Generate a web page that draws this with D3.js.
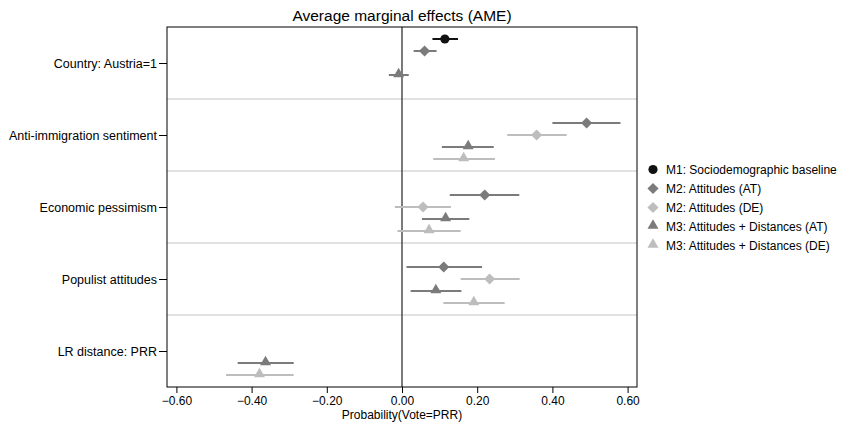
<!DOCTYPE html>
<html>
<head>
<meta charset="utf-8">
<script src="https://cdn.jsdelivr.net/npm/d3@7"></script>
<style>
  html, body { margin: 0; padding: 0; background: #fff; }
  svg { display: block; font-family: "Liberation Sans", Arial, Helvetica, sans-serif; }
</style>
</head>
<body>
<svg id="chart" width="850" height="423"></svg>
<script>
// ---------- data ----------
const categories = ["Country: Austria=1", "Anti-immigration sentiment", "Economic pessimism", "Populist attitudes", "LR distance: PRR"];
const seriesNames = ["M1: Sociodemographic baseline", "M2: Attitudes (AT)", "M2: Attitudes (DE)", "M3: Attitudes + Distances (AT)", "M3: Attitudes + Distances (DE)"];
const xTicks = [-0.6, -0.4, -0.2, 0, 0.2, 0.4, 0.6];

// point estimates per series (null = not in model)
const m1Est   = [0.114, null, null, null, null];
const m1Lo    = [0.081, null, null, null, null];
const m1Hi    = [0.149, null, null, null, null];

const m2atEst = [0.060, 0.491, 0.220, 0.111, null];
const m2atLo  = [0.031, 0.400, 0.127, 0.012, null];
const m2atHi  = [0.092, 0.581, 0.312, 0.213, null];

const m2deEst = [null, 0.358, 0.056, 0.233, null];
const m2deLo  = [null, 0.280, -0.019, 0.156, null];
const m2deHi  = [null, 0.438, 0.130, 0.313, null];

const m3atEst = [-0.009, 0.176, 0.116, 0.090, -0.363];
const m3atLo  = [-0.035, 0.106, 0.053, 0.023, -0.437];
const m3atHi  = [0.018, 0.244, 0.179, 0.158, -0.288];

const m3deEst = [null, 0.164, 0.072, 0.191, -0.379];
const m3deLo  = [null, 0.083, -0.012, 0.110, -0.468];
const m3deHi  = [null, 0.247, 0.156, 0.273, -0.288];

// ---------- styling ----------
const colors = ["#111111", "#7b7b7b", "#bdbdbd", "#7b7b7b", "#bdbdbd"];
const shapes = ["circle", "diamond", "diamond", "triangle", "triangle"];

const series = [
  {est: m1Est, lo: m1Lo, hi: m1Hi},
  {est: m2atEst, lo: m2atLo, hi: m2atHi},
  {est: m2deEst, lo: m2deLo, hi: m2deHi},
  {est: m3atEst, lo: m3atLo, hi: m3atHi},
  {est: m3deEst, lo: m3deLo, hi: m3deHi}
].map((s, i) => ({...s, name: seriesNames[i], color: colors[i], shape: shapes[i], idx: i}));

const svg = d3.select("#chart");
const L = 167, R = 637, T = 27, B = 387;

const x = d3.scaleLinear().domain([-0.625, 0.625]).range([L, R]);
const yGroup = d3.scaleBand().domain(categories).range([T, B]).padding(0);
const slot = d3.scaleBand().domain(d3.range(5)).range([0, yGroup.bandwidth()]).paddingOuter(0.5).paddingInner(0);
const yPos = (cat, k) => yGroup(cat) + slot(k) + slot.bandwidth() / 2;

// separators
svg.append("g").selectAll("line")
  .data(categories.slice(1))
  .join("line")
  .attr("x1", L).attr("x2", R)
  .attr("y1", d => yGroup(d)).attr("y2", d => yGroup(d))
  .attr("stroke", "#d9d9d9").attr("stroke-width", 1.6);

// zero line
svg.append("line")
  .attr("x1", x(0)).attr("x2", x(0)).attr("y1", T).attr("y2", B)
  .attr("stroke", "#222").attr("stroke-width", 1.2);

function symbolFor(shape, size) {
  const type = shape === "circle" ? d3.symbolCircle : shape === "diamond" ? d3.symbolSquare : d3.symbolTriangle;
  return d3.symbol().type(type).size(size)();
}
const sizes = {circle: 66, diamond: 62, triangle: 52};
const rot = {circle: 0, diamond: 45, triangle: 0};

// marks
series.forEach(s => {
  const pts = categories.map((c, i) => ({c, est: s.est[i], lo: s.lo[i], hi: s.hi[i]})).filter(d => d.est !== null);
  const g = svg.append("g");
  g.selectAll("line").data(pts).join("line")
    .attr("x1", d => x(d.lo)).attr("x2", d => x(d.hi))
    .attr("y1", d => yPos(d.c, s.idx)).attr("y2", d => yPos(d.c, s.idx))
    .attr("stroke", s.color).attr("stroke-width", 2);
  g.selectAll("path").data(pts).join("path")
    .attr("d", symbolFor(s.shape, sizes[s.shape]))
    .attr("transform", d => `translate(${x(d.est)},${yPos(d.c, s.idx) + (s.shape === "triangle" ? -1 : 0)}) rotate(${rot[s.shape]})`)
    .attr("fill", s.color);
});

// frame
svg.append("rect").attr("x", L).attr("y", T).attr("width", R - L).attr("height", B - T)
  .attr("fill", "none").attr("stroke", "#000").attr("stroke-width", 1);

// x axis
const xAxis = svg.append("g").attr("transform", `translate(0,${B})`)
  .call(d3.axisBottom(x).tickValues(xTicks).tickFormat(d3.format(".2f")).tickSize(6).tickPadding(3));
xAxis.select(".domain").remove();
xAxis.selectAll("line").attr("stroke", "#000");
xAxis.selectAll("text").attr("font-size", 12).attr("fill", "#000").attr("font-family", "Liberation Sans, Arial, sans-serif");

// y axis
const yAxis = svg.append("g").attr("transform", `translate(${L},0)`)
  .call(d3.axisLeft(d3.scalePoint().domain(categories).range([yGroup(categories[0]) + yGroup.bandwidth()/2, yGroup(categories[4]) + yGroup.bandwidth()/2])).tickSize(8).tickPadding(2));
yAxis.select(".domain").remove();
yAxis.selectAll("line").attr("stroke", "#000");
yAxis.selectAll("text").attr("font-size", 12.5).attr("fill", "#000").attr("font-family", "Liberation Sans, Arial, sans-serif");

// title
svg.append("text").attr("x", (L + R) / 2).attr("y", 21).attr("text-anchor", "middle")
  .attr("font-size", 15.5).attr("fill", "#000").text("Average marginal effects (AME)");

// x title
svg.append("text").attr("x", (L + R) / 2).attr("y", 418.5).attr("text-anchor", "middle")
  .attr("font-size", 12).attr("fill", "#000").text("Probability(Vote=PRR)");

// legend
const lg = svg.append("g").attr("transform", "translate(653,169.5)");
const rows = lg.selectAll("g").data(series).join("g")
  .attr("transform", (d, i) => `translate(0,${i * 19})`);
rows.append("path")
  .attr("d", d => symbolFor(d.shape, sizes[d.shape]))
  .attr("transform", d => `translate(0,${d.shape === "triangle" ? -1 : 0}) rotate(${rot[d.shape]})`)
  .attr("fill", d => d.color);
rows.append("text").attr("x", 13).attr("y", 4.5).attr("font-size", 12).attr("fill", "#000")
  .text(d => d.name);
</script>
</body>
</html>
